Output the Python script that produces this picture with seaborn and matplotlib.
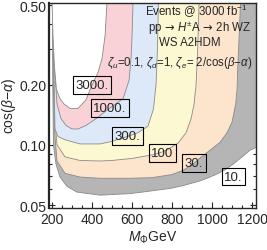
import numpy as np
import pandas as pd
import matplotlib
matplotlib.use("Agg")
import matplotlib.pyplot as plt
import seaborn as sns
from matplotlib.ticker import FixedLocator, NullFormatter

# contour levels (events) and boundary curves
levels = ["10.", "30.", "100", "300.", "1000.", "3000."]
fill_colors = ["#b5b5b5", "#fde4cc", "#fcf8d2", "#dde9f8", "#f8d2d6", "#ffffff"]

c10_x = [202, 204, 207, 220, 240, 275, 325, 440, 590, 690, 790, 855, 940, 990, 1025, 1065, 1105, 1150, 1190, 1220]
c10_y = [0.52, 0.2, 0.10, 0.08, 0.069, 0.062, 0.058, 0.056, 0.057, 0.0587, 0.0605, 0.0625, 0.066, 0.069, 0.0715, 0.075, 0.080, 0.087, 0.094, 0.097]

c30_x = [204, 207, 212, 225, 265, 340, 440, 590, 700, 800, 855, 910, 940, 990, 1040, 1075, 1100, 1118, 1125, 1130, 1137, 1142]
c30_y = [0.52, 0.2, 0.12, 0.083, 0.072, 0.069, 0.068, 0.068, 0.0685, 0.071, 0.0745, 0.081, 0.086, 0.094, 0.103, 0.115, 0.13, 0.16, 0.19, 0.27, 0.38, 0.52]

c100_x = [206, 210, 215, 225, 265, 340, 440, 500, 600, 700, 750, 780, 830, 870, 895, 910, 920, 928, 935]
c100_y = [0.52, 0.2, 0.13, 0.10, 0.087, 0.0835, 0.083, 0.0835, 0.0855, 0.089, 0.092, 0.095, 0.102, 0.115, 0.135, 0.16, 0.2, 0.3, 0.52]

c300_x = [208, 211, 215, 230, 265, 340, 440, 500, 577, 630, 680, 707, 720, 727, 732]
c300_y = [0.52, 0.2, 0.12, 0.11, 0.106, 0.101, 0.101, 0.104, 0.11, 0.115, 0.124, 0.151, 0.2, 0.3, 0.52]

c1000_x = [205, 208, 212, 225, 245, 270, 300, 330, 370, 420, 490, 555, 585, 595, 600, 605]
c1000_y = [0.52, 0.35, 0.25, 0.16, 0.135, 0.125, 0.12, 0.12, 0.125, 0.135, 0.153, 0.17, 0.21, 0.27, 0.35, 0.52]

c3000_x = [200, 205, 212, 222, 240, 260, 290, 330, 370, 400, 430, 450, 465, 475]
c3000_y = [0.52, 0.35, 0.25, 0.19, 0.17, 0.16, 0.152, 0.152, 0.168, 0.199, 0.23, 0.27, 0.35, 0.52]

# contour label positions
label_x = [1107, 910, 752, 577, 490, 400]
label_y = [0.0694, 0.0811, 0.091, 0.1107, 0.153, 0.199]

x_ticks = [200, 400, 600, 800, 1000, 1200]
y_ticks = [0.05, 0.10, 0.20, 0.50]
y_ticklabels = ["0.05", "0.10", "0.20", "0.50"]

sns.set_style("ticks")
plt.rcParams["font.family"] = ["Liberation Sans", "DejaVu Sans"]
plt.rcParams["mathtext.fontset"] = "custom"
plt.rcParams["mathtext.rm"] = "Liberation Sans"
plt.rcParams["mathtext.it"] = "Liberation Sans:italic"
plt.rcParams["mathtext.sf"] = "DejaVu Sans"

curves = [(c10_x, c10_y), (c30_x, c30_y), (c100_x, c100_y),
          (c300_x, c300_y), (c1000_x, c1000_y), (c3000_x, c3000_y)]

fig = plt.figure(figsize=(2.67, 2.51), dpi=100)
ax = fig.add_axes([0.1835, 0.1673, 0.7742, 0.8167])
ax.set_yscale("log")

for i, (cx, cy) in enumerate(curves):
    px = list(cx)
    py = list(cy)
    if i == 0:
        px += [1300, 1300, 150]
        py += [py[-1], 0.7, 0.7]
    else:
        px += [px[-1], px[0]]
        py += [0.7, 0.7]
    ax.fill(px, py, color=fill_colors[i], lw=0, zorder=1 + i)
    df = pd.DataFrame({"x": cx, "y": cy})
    sns.lineplot(data=df, x="x", y="y", sort=False, estimator=None, ax=ax,
                 color="#8a8a8a", lw=0.6, zorder=1.5 + i)

for lab, lx, ly in zip(levels, label_x, label_y):
    ax.text(lx, ly, lab, fontsize=9.5, ha="center", va="center", zorder=20,
            bbox=dict(boxstyle="square,pad=0.2", fc="none", ec="black", lw=0.8))

ax.set_xlim(185, 1218)
ax.set_ylim(0.0483, 0.5116)
ax.xaxis.set_major_locator(FixedLocator(x_ticks))
ax.xaxis.set_minor_locator(FixedLocator(np.arange(200, 1201, 50)))
ax.yaxis.set_major_locator(FixedLocator(y_ticks))
ax.yaxis.set_minor_locator(FixedLocator([0.06, 0.07, 0.08, 0.09, 0.3, 0.4]))
ax.set_yticklabels(y_ticklabels)
ax.yaxis.set_minor_formatter(NullFormatter())
ax.tick_params(which="both", direction="in", top=True, right=True, labelsize=10, pad=2, width=0.8)
ax.tick_params(which="major", length=4)
ax.tick_params(which="minor", length=2.2)
ax.tick_params(axis="x", pad=3)
for s in ax.spines.values():
    s.set_linewidth(1.0)
    s.set_zorder(30)
ax.spines["left"].set_linewidth(1.6)

ax.set_xlabel(r"$M_{\Phi}$GeV", fontsize=10, labelpad=2)
ax.set_ylabel(r"cos($\beta$$-$$\alpha$)", fontsize=10, labelpad=1)

ax.text(0.71, 0.962, r"Events @ 3000 fb$^{-1}$", transform=ax.transAxes, ha="center", va="center", fontsize=8.3, zorder=25)
ax.text(0.73, 0.882, r"pp$\,\mathsf{\rightarrow}\,$$H^{\pm}$A$\,\mathsf{\rightarrow}\,$2h WZ", transform=ax.transAxes, ha="center", va="center", fontsize=8.3, zorder=25)
ax.text(0.68, 0.81, "WS A2HDM", transform=ax.transAxes, ha="center", va="center", fontsize=8.3, zorder=25)
ax.text(0.63, 0.71, r"$\zeta_u$=0.1, $\zeta_d$=1, $\zeta_e$= 2/cos($\beta$$-$$\alpha$)", transform=ax.transAxes, ha="center", va="center", fontsize=8.3, zorder=25)

fig.savefig("out.png", dpi=100)
